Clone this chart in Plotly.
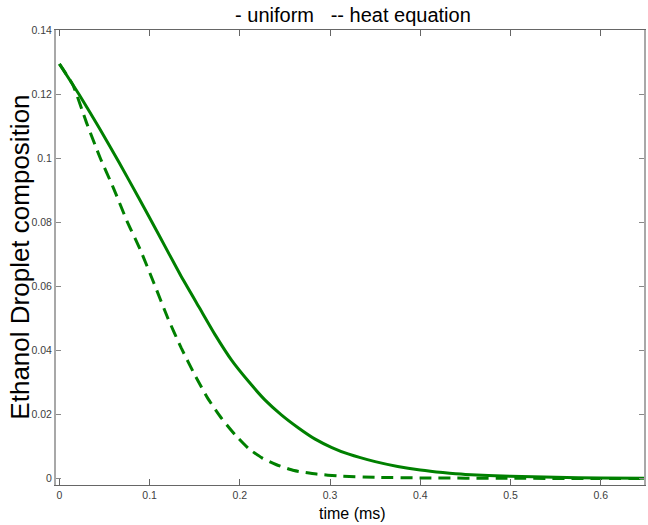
import plotly.graph_objects as go

# Uniform model (solid)
t_uniform = [0.0, 0.022, 0.044, 0.066, 0.088, 0.110, 0.134, 0.155, 0.173, 0.191,
             0.210, 0.228, 0.246, 0.265, 0.283, 0.302, 0.320, 0.350, 0.375, 0.400,
             0.425, 0.450, 0.500, 0.550, 0.600, 0.648]
c_uniform = [0.1294, 0.1198, 0.1095, 0.0987, 0.0876, 0.0762, 0.0636, 0.0534, 0.0447, 0.0369,
             0.0302, 0.0245, 0.0199, 0.0158, 0.0124, 0.0097, 0.0077, 0.0053, 0.0038, 0.0027,
             0.0019, 0.0013, 0.0007, 0.0004, 0.0002, 0.0001]

# Heat equation model (dashed)
t_heat = [0.0, 0.015, 0.030, 0.045, 0.060, 0.075, 0.090, 0.105, 0.120, 0.135,
          0.150, 0.165, 0.180, 0.195, 0.210, 0.225, 0.240, 0.260, 0.285, 0.310,
          0.350, 0.400, 0.500, 0.600, 0.648]
c_heat = [0.1294, 0.1228, 0.1111, 0.1002, 0.0906, 0.0803, 0.0712, 0.0608, 0.0502, 0.0408,
          0.0324, 0.0248, 0.0187, 0.0136, 0.0093, 0.0064, 0.0044, 0.0025, 0.0014, 0.0008,
          0.0004, 0.0002, 0.0001, 0.0, 0.0]

x_ticks = [0, 0.1, 0.2, 0.3, 0.4, 0.5, 0.6]
x_ticklabels = ["0", "0.1", "0.2", "0.3", "0.4", "0.5", "0.6"]
y_ticks = [0, 0.02, 0.04, 0.06, 0.08, 0.10, 0.12, 0.14]
y_ticklabels = ["0", "0.02", "0.04", "0.06", "0.08", "0.1", "0.12", "0.14"]

title_text = "- uniform\u00a0\u00a0\u00a0-- heat equation"
x_title = "time (ms)"
y_title = "Ethanol Droplet composition"

GREEN = "rgb(0,128,0)"
FONT = "Liberation Sans, Arial, Helvetica, sans-serif"

fig = go.Figure()
fig.add_trace(go.Scatter(x=t_uniform, y=c_uniform, mode="lines",
                         line=dict(color=GREEN, width=3, shape="spline", smoothing=0.5),
                         name="uniform", showlegend=False))
fig.add_trace(go.Scatter(x=t_heat, y=c_heat, mode="lines",
                         line=dict(color=GREEN, width=3, dash="12px,7px", shape="spline", smoothing=0.5),
                         name="heat equation", showlegend=False))

fig.update_layout(
    width=648, height=525,
    margin=dict(l=56, r=2, t=30, b=40),
    paper_bgcolor="white", plot_bgcolor="white",
    font=dict(family=FONT, color="#404040", size=10.5),
    title=dict(text=title_text, x=0.505, xref="paper", xanchor="center",
               y=1 - 15 / 525, yref="container", yanchor="middle",
               font=dict(family=FONT, size=20, color="black")),
)
fig.update_xaxes(range=[-0.0038, 0.648], tickvals=x_ticks, ticktext=x_ticklabels,
                 showgrid=False, zeroline=False, showline=True, linecolor="#666666",
                 linewidth=1, mirror="ticks", ticks="inside", ticklen=6,
                 tickcolor="#666666", tickwidth=1)
fig.update_yaxes(range=[-0.002, 0.14], tickvals=y_ticks, ticktext=y_ticklabels,
                 showgrid=False, zeroline=False, showline=True, linecolor="#a8a8a8",
                 linewidth=2, mirror="ticks", ticks="inside", ticklen=5,
                 tickcolor="#888888", tickwidth=1)

fig.add_annotation(text=y_title, textangle=-90, xref="paper", yref="paper",
                   x=(19 - 56) / 590, y=0.5, xanchor="center", yanchor="middle",
                   showarrow=False, font=dict(family=FONT, size=26, color="black"))
fig.add_annotation(text=x_title, xref="paper", yref="paper",
                   x=0.505, y=(485 - 513) / 455, xanchor="center", yanchor="middle",
                   showarrow=False, font=dict(family=FONT, size=16, color="black"))

fig.write_html("out.html", config={"displayModeBar": False},
               post_script="document.body.style.margin='0';document.body.style.overflow='hidden';")
